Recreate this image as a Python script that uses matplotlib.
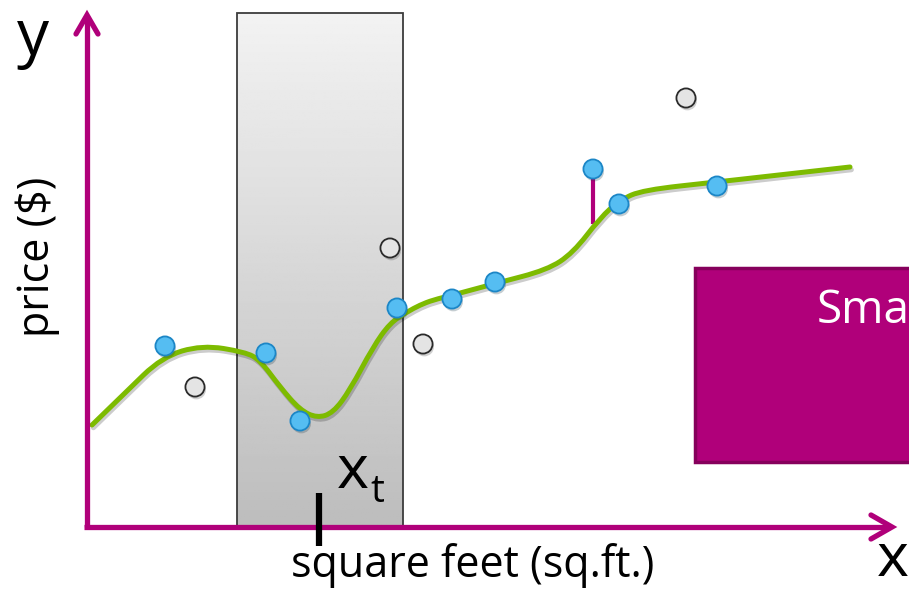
import numpy as np
import matplotlib
matplotlib.use('Agg')
import matplotlib.pyplot as plt
import matplotlib.patheffects as pe
from matplotlib.patches import Rectangle, PathPatch
from matplotlib.path import Path

plt.rcParams['font.family'] = ['Open Sans', 'DejaVu Sans']

# canvas units: x to the right, y downward (same as the slide)
W, H = 909, 589
MAGENTA = '#B0007A'

# fitted curve, read along its length
curve_x = [92, 125, 162, 202, 245, 260, 280, 300, 317, 333, 350, 373, 390, 407, 420,
           433, 453, 497, 547, 573, 600, 620, 643, 717, 850]
curve_y = [425, 393, 357, 345, 352, 360, 387, 410, 418, 413, 390, 347, 323, 312, 305,
           300, 295, 283, 270, 253, 218, 200, 190, 182, 167]

# observations close to the curve (blue) and others (grey)
blue_x = [165, 266, 300, 397, 452, 495, 593, 619, 717]
blue_y = [346, 353, 421, 308, 299, 282, 169, 204, 186]
grey_x = [195, 390, 423, 686]
grey_y = [387, 248, 344, 98]

# window around x_t and the highlighted residual
win_left, win_right, win_top = 237, 403, 13
x_t = 319
resid_x = 593
resid_top, resid_bottom = 178, 222


def smooth_path(xs, ys):
    # quadratic bezier through midpoints, read points act as control points
    pts = np.column_stack([xs, ys]).astype(float)
    verts = [pts[0]]
    codes = [Path.MOVETO]
    for i in range(1, len(pts) - 1):
        mid = (pts[i] + pts[i + 1]) / 2
        if i == len(pts) - 2:
            mid = pts[i + 1]
        verts += [pts[i], mid]
        codes += [Path.CURVE3, Path.CURVE3]
    return Path(verts, codes)


fig = plt.figure(figsize=(W / 100, H / 100), dpi=100)
ax = fig.add_axes([0, 0, 1, 1])
ax.set_xlim(0, W)
ax.set_ylim(H, 0)
ax.axis('off')

axis_y = 527
axis_x = 87

# grey window with vertical gradient
grad = np.linspace(0.95, 0.74, 256).reshape(-1, 1)
ax.imshow(grad, cmap='gray', vmin=0, vmax=1, aspect='auto',
          extent=[win_left, win_right, axis_y, win_top], zorder=1)
ax.add_patch(Rectangle((win_left, win_top), win_right - win_left, axis_y - win_top,
                       fill=False, edgecolor='#3c3c3c', lw=1.3, zorder=2))

# axes with chevron heads
lw_ax = 3.8
ax.plot([axis_x, axis_x], [axis_y, 16], color=MAGENTA, lw=lw_ax, zorder=5,
        solid_capstyle='butt')
ax.plot([76, axis_x, 98], [34, 15, 34], color=MAGENTA, lw=lw_ax, zorder=5,
        solid_capstyle='round', solid_joinstyle='miter')
ax.plot([84, 890], [axis_y, axis_y], color=MAGENTA, lw=lw_ax, zorder=5,
        solid_capstyle='butt')
ax.plot([871, 892, 871], [515, axis_y, 539], color=MAGENTA, lw=lw_ax, zorder=5,
        solid_capstyle='round', solid_joinstyle='miter')

# x_t tick
ax.plot([x_t, x_t], [493, 546], color='black', lw=4.5, zorder=6, solid_capstyle='butt')

# residual
ax.plot([resid_x, resid_x], [resid_top, resid_bottom], color=MAGENTA, lw=3, zorder=3)

# fitted curve
shadow = [pe.SimplePatchShadow(offset=(1, -2), alpha=0.2, shadow_rgbFace=None), pe.Normal()]
ax.add_patch(PathPatch(smooth_path(curve_x, curve_y), facecolor='none',
                       edgecolor='#7DBB00', lw=3.6, capstyle='round', zorder=4,
                       path_effects=[pe.SimpleLineShadow(offset=(1, -2), alpha=0.2),
                                     pe.Normal()]))

pshadow = [pe.SimplePatchShadow(offset=(1, -2), alpha=0.25), pe.Normal()]
ax.scatter(grey_x, grey_y, s=190, facecolor='#E4E4E4', edgecolor='#2a2a2a',
           linewidth=1.3, zorder=7, path_effects=pshadow)
ax.scatter(blue_x, blue_y, s=190, facecolor='#55BDF2', edgecolor='#1C86C6',
           linewidth=1.3, zorder=7, path_effects=pshadow)

# magenta callout box
ax.add_patch(Rectangle((695, 268), 230, 194, facecolor=MAGENTA, edgecolor='#86005C',
                       lw=2.5, zorder=8))
ax.text(817, 311, 'Sma', color='white', fontsize=33, ha='left', va='center', zorder=9)

# labels
ax.text(33, 38, 'y', fontsize=46, ha='center', va='center')
ax.text(893, 560, 'x', fontsize=44, ha='center', va='center')
ax.text(38, 257, 'price ($)', fontsize=31, rotation=90, ha='center', va='center')
ax.text(473, 566, 'square feet (sq.ft.)', fontsize=31, ha='center', va='center')
ax.text(353, 472, 'x', fontsize=44, ha='center', va='center', zorder=6)
ax.text(377, 492, 't', fontsize=28, ha='center', va='center', zorder=6)

fig.savefig('out.png', dpi=100)
